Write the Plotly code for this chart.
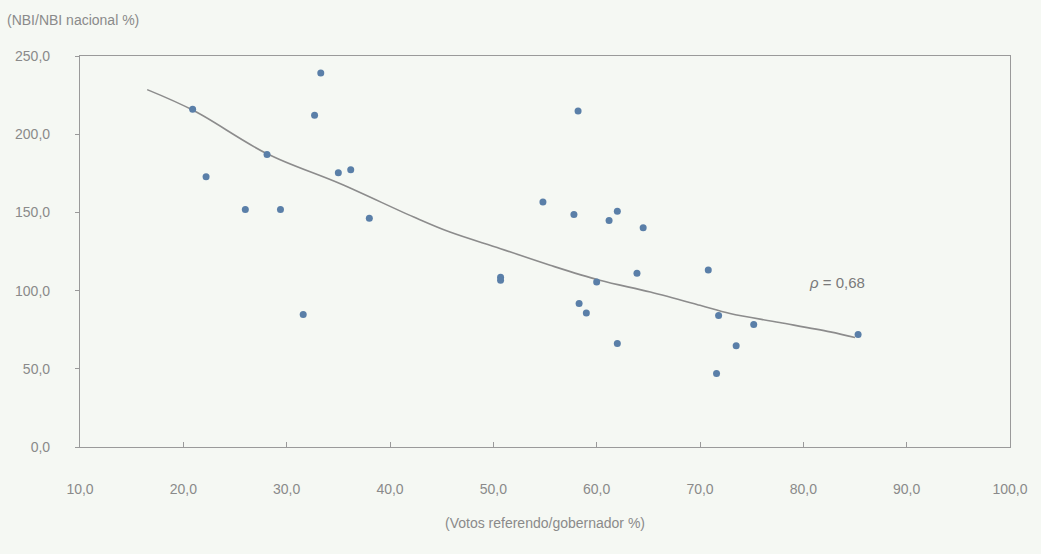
import plotly.graph_objects as go

# Scatter data: (Votos referendo/gobernador %) vs (NBI/NBI nacional %)
votos = [20.9, 22.2, 26.0, 29.4, 28.1, 33.3, 32.7, 35.0, 36.2, 38.0, 31.6,
         58.2, 54.8, 57.8, 62.0, 61.2, 64.5, 50.7, 50.7, 63.9, 70.8, 60.0,
         58.3, 59.0, 62.0, 71.8, 75.2, 73.5, 71.6, 85.3]
nbi = [215.9, 172.8, 151.9, 151.9, 187.0, 239.2, 212.1, 175.3, 177.3, 146.2, 84.7,
       214.9, 156.6, 148.7, 150.8, 144.9, 140.2, 108.5, 106.6, 111.1, 113.2, 105.5,
       91.7, 85.7, 66.2, 84.1, 78.3, 64.7, 47.0, 71.9]

# Trend curve
trend_x = [16.5, 21.0, 28.1, 35.2, 42.3, 45.8, 50.7, 55.5, 60.3, 65.2, 70.0, 72.9, 77.7, 82.6, 85.0]
trend_y = [228.5, 215.1, 187.5, 168.3, 147.0, 137.4, 126.8, 116.2, 106.6, 99.1, 90.6, 85.3, 79.6, 73.6, 70.0]

x_ticks = [10, 20, 30, 40, 50, 60, 70, 80, 90, 100]
y_ticks = [0, 50, 100, 150, 200, 250]

FONT = "Liberation Sans Narrow, Arial Narrow, Liberation Sans, sans-serif"
GREY = "#8a8a8a"
BG = "#f5f8f3"

fig = go.Figure()
fig.add_trace(go.Scatter(x=trend_x, y=trend_y, mode="lines", line_shape="spline",
                         line=dict(color="#8c8c8c", width=1.6), hoverinfo="skip",
                         showlegend=False))
fig.add_trace(go.Scatter(x=votos, y=nbi, mode="markers",
                         marker=dict(color="#5a7fa8", size=7, line=dict(width=0)),
                         showlegend=False))

fig.add_annotation(x=80.4, y=105.3, xref="x", yref="y", text="<i>ρ</i> = 0,68",
                   showarrow=False, xanchor="left", yanchor="middle",
                   font=dict(family=FONT, size=15, color="#7a7a7a"))
fig.add_annotation(xref="paper", yref="paper", x=-75 / 930, y=1 + (56 - 20) / 391,
                   text="(NBI/NBI nacional %)",
                   showarrow=False, xanchor="left", yanchor="middle",
                   font=dict(family=FONT, size=14, color=GREY))

fig.update_layout(
    width=1041, height=554,
    margin=dict(l=80, r=31, t=56, b=107),
    paper_bgcolor=BG, plot_bgcolor=BG,
    separators=",.",
    font=dict(family=FONT, size=14, color=GREY),
    xaxis=dict(range=[10, 100], tickvals=x_ticks, tickformat=".1f",
               showgrid=False, zeroline=False,
               showline=True, mirror=True, linecolor="#9a9a9a", linewidth=1.2,
               ticks="inside", ticklen=5, tickcolor="#9a9a9a",
               ticklabelstandoff=29,
               title=dict(text="(Votos referendo/gobernador %)", standoff=22,
                          font=dict(family=FONT, size=14, color=GREY))),
    yaxis=dict(range=[0, 250], tickvals=y_ticks, tickformat=".1f",
               showgrid=False, zeroline=False,
               showline=True, mirror=True, linecolor="#9a9a9a", linewidth=1.2,
               ticks="outside", ticklen=4, tickcolor="#9a9a9a",
               ticklabelstandoff=22),
)

fig.write_html("out.html")
